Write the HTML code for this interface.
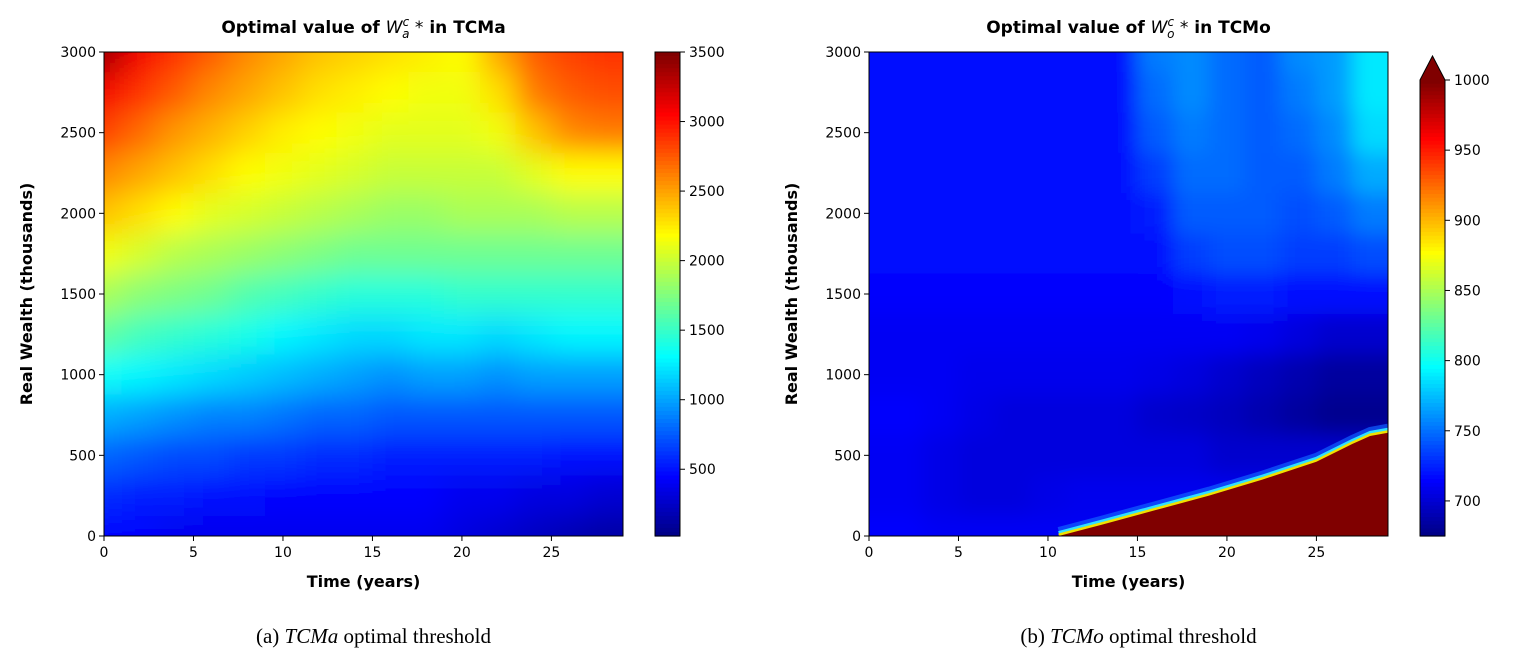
<!DOCTYPE html>
<html><head><meta charset="utf-8"><style>
body{margin:0;background:#fff;width:1518px;height:657px;overflow:hidden}
svg text{font-family:"DejaVu Sans","Liberation Sans",sans-serif}
</style></head><body>
<svg id="fig" width="1518" height="657" xmlns="http://www.w3.org/2000/svg">
<defs>
<filter id="blurA" x="-0.2" y="-0.2" width="1.4" height="1.4"><feGaussianBlur stdDeviation="14"/></filter>
<filter id="blurB" x="-0.2" y="-0.2" width="1.4" height="1.4"><feGaussianBlur stdDeviation="10"/></filter>
<clipPath id="clipA"><rect x="104" y="52" width="519" height="484"/></clipPath>
<clipPath id="clipB"><rect x="869" y="52" width="519" height="484"/></clipPath>
</defs>
</svg>
<script>
// ---- data ----
const timesA = [0,2,4,6,8,10,12,14,16,18,20,22,24,26,28];
const wealthA = [3000,2750,2500,2250,2000,1750,1500,1250,1000,750,500,250,0];
const valuesA = [
[3400,3100,2900,2750,2600,2500,2400,2350,2300,2250,2200,2500,2750,2850,2900],
[3100,2900,2750,2600,2500,2400,2300,2250,2200,2150,2150,2300,2650,2750,2800],
[2850,2700,2550,2450,2350,2250,2200,2150,2100,2100,2100,2150,2400,2600,2650],
[2600,2500,2400,2300,2200,2150,2100,2050,2000,2000,2000,2000,2100,2200,2200],
[2400,2300,2200,2100,2050,2000,1950,1900,1850,1850,1900,1900,1900,1950,1950],
[2150,2050,1950,1900,1850,1800,1750,1700,1700,1700,1700,1700,1700,1700,1700],
[1900,1800,1750,1700,1600,1550,1500,1450,1450,1450,1500,1500,1500,1500,1500],
[1650,1550,1500,1450,1400,1300,1250,1200,1200,1250,1250,1200,1250,1300,1300],
[1350,1300,1250,1200,1150,1100,1050,1000,950,1000,1000,950,1000,1000,1000],
[1050,1000,950,900,900,850,800,800,750,750,750,750,750,750,750],
[800,750,700,700,650,650,600,600,550,550,550,550,550,500,500],
[600,550,550,500,500,450,450,450,450,450,400,400,350,350,300],
[450,450,400,400,400,400,400,400,400,400,350,300,250,200,150]];
const timesB = [0,2,4,6,8,10,12,14,16,18,20,22,24,26,28];
const wealthB = [3000,2750,2500,2250,2000,1750,1500,1250,1000,750,500,250,0];
const valuesB = [
[720,720,720,720,720,720,720,720,755,760,750,745,760,765,790],
[720,720,720,720,720,720,720,720,750,760,750,745,755,765,790],
[720,720,720,720,720,720,720,720,745,755,750,745,750,760,785],
[720,720,720,720,720,720,720,720,735,750,750,745,745,755,770],
[720,720,720,720,720,720,720,720,725,745,745,745,740,745,755],
[718,718,718,718,718,718,718,718,720,735,740,740,735,735,740],
[715,715,715,715,715,715,715,715,715,720,725,725,720,720,720],
[712,712,712,712,712,712,712,712,712,712,712,710,705,700,700],
[712,712,712,710,710,710,710,710,708,705,700,695,690,685,685],
[715,715,712,708,705,705,705,705,700,698,695,690,685,680,680],
[712,712,708,705,705,705,705,705,705,705,700,700,700,700,700],
[712,712,708,705,705,708,710,710,710,710,710,710,710,710,710],
[715,715,712,712,712,712,712,712,712,712,712,712,712,712,712]];
// region where value exceeds 1000 (lower boundary in wealth per time)
const boundaryT = [10.6,13,16,19,22,25,27,28,29];
const boundaryW = [0,70,160,250,350,460,570,620,640];
const xTicks = [0,5,10,15,20,25];
const yTicks = [0,500,1000,1500,2000,2500,3000];
const cbTicksA = [500,1000,1500,2000,2500,3000,3500];
const cbTicksB = [700,750,800,850,900,950,1000];

const NS="http://www.w3.org/2000/svg";
const svg=document.getElementById('fig');
function el(tag,attrs,parent,text){const e=document.createElementNS(NS,tag);for(const k in attrs)e.setAttribute(k,attrs[k]);if(text!==undefined)e.textContent=text;(parent||svg).appendChild(e);return e;}
function jet(x){x=Math.max(0,Math.min(1,x));const c=v=>Math.round(255*Math.max(0,Math.min(1,v)));
return `rgb(${c(1.5-Math.abs(4*x-3))},${c(1.5-Math.abs(4*x-2))},${c(1.5-Math.abs(4*x-1))})`;}

function panel(o){
 const X=t=>o.x0+(t/29)*(o.x1-o.x0);
 const Y=w=>o.y1-(w/3000)*(o.y1-o.y0);
 const outer=el('g',{'clip-path':`url(#${o.clip})`},svg);
 const g=el('g',{filter:`url(#${o.blur})`},outer);
 
 
 const E=40;
 o.vals.forEach((row,ri)=>row.forEach((v,ci)=>{
  const t=o.times[ci],w=o.wealth[ri];
  const ta=Math.max(0,t-1),tb=Math.min(29,t+1);
  const wa=Math.max(0,w-125),wb=Math.min(3000,w+125);
  let xa=X(ta),xb=X(tb),ya=Y(wb),yb=Y(wa);
  if(ta===0)xa-=E; if(tb===29)xb+=E; if(wb===3000)ya-=E; if(wa===0)yb+=E;
  const r=el('rect',{x:xa,y:ya,width:xb-xa+0.5,height:yb-ya+0.5,fill:jet((v-o.vmin)/(o.vmax-o.vmin))},g);
  
  
 }));
 if(o.bt){
  const pts=o.bt.map((t,i)=>[X(t),Y(o.bw[i])]);
  const line=pts.map(p=>p.join(',')).join(' ');
  el('polyline',{points:pts.map(p=>p[0]+','+(p[1]-5)).join(' '),fill:'none',stroke:'#1060ff','stroke-width':8,opacity:0.7},outer);
  el('polyline',{points:pts.map(p=>p[0]+','+(p[1]-3)).join(' '),fill:'none',stroke:'#30e0ff','stroke-width':4},outer);
  el('polyline',{points:pts.map(p=>p[0]+','+(p[1]-1)).join(' '),fill:'none',stroke:'#f0e000','stroke-width':3},outer);
  const poly=el('polygon',{points:line+` ${X(29)+5},${Y(o.bw[o.bw.length-1])} ${X(29)+5},${o.y1+5} ${X(o.bt[0])},${o.y1+5}`,fill:jet(1)},outer);
  
  
 }
 el('rect',{x:o.x0,y:o.y0,width:o.x1-o.x0,height:o.y1-o.y0,fill:'none',stroke:'#000','stroke-width':1});
 xTicks.forEach(t=>{el('line',{x1:X(t),x2:X(t),y1:o.y1,y2:o.y1+5,stroke:'#000'});
  const tx=el('text',{x:X(t),y:o.y1+21,'font-size':14,'text-anchor':'middle'},svg,t);
  });
 yTicks.forEach(w=>{el('line',{x1:o.x0-5,x2:o.x0,y1:Y(w),y2:Y(w),stroke:'#000'});
  const tx=el('text',{x:o.x0-8,y:Y(w)+5,'font-size':14,'text-anchor':'end'},svg,w);
  });
 const xl=el('text',{x:(o.x0+o.x1)/2,y:587,'font-size':16,'font-weight':'bold','text-anchor':'middle'},svg,'Time (years)');
 
 const yl=el('text',{x:0,y:0,'font-size':16,'font-weight':'bold','text-anchor':'middle',transform:`translate(${o.x0-72},${(o.y0+o.y1)/2}) rotate(-90)`},svg,'Real Wealth (thousands)');
 
 const ti=el('text',{x:(o.x0+o.x1)/2,y:33,'font-size':17,'font-weight':'bold','text-anchor':'middle'},svg);
 
 el('tspan',{},ti,'Optimal value of ');
 el('tspan',{'font-style':'italic','font-weight':'normal'},ti,'W');
 el('tspan',{'font-style':'italic','font-weight':'normal','font-size':12,dy:-7},ti,'c');
 el('tspan',{'font-style':'italic','font-weight':'normal','font-size':12,dx:-7,dy:12},ti,o.sub);
 el('tspan',{'font-weight':'normal',dy:-5},ti,' *');
 el('tspan',{},ti,'  in '+o.label);
 const cb=el('g',{},svg);
 const cy0=o.cbTop,cy1=536,cx=o.cbx,cw=25;
 const CY=v=>cy1-(v-o.vmin)/(o.vmax-o.vmin)*(cy1-cy0);
 for(let i=0;i<120;i++){const a=cy0+(cy1-cy0)*i/120;el('rect',{x:cx,y:a,width:cw,height:(cy1-cy0)/120+0.6,fill:jet(1-i/120)},cb);}
 if(o.extend){el('polygon',{points:`${cx},${cy0} ${cx+cw/2},${cy0-24} ${cx+cw},${cy0}`,fill:jet(1)},cb);
  el('polygon',{points:`${cx},${cy1} ${cx},${cy0} ${cx+cw/2},${cy0-24} ${cx+cw},${cy0} ${cx+cw},${cy1}`,fill:'none',stroke:'#000'},cb);}
 else el('rect',{x:cx,y:cy0,width:cw,height:cy1-cy0,fill:'none',stroke:'#000'},cb);
 o.cbTicks.forEach(v=>{el('line',{x1:cx+cw,x2:cx+cw+5,y1:CY(v),y2:CY(v),stroke:'#000'},cb);
  const tx=el('text',{x:cx+cw+9,y:CY(v)+5,'font-size':14},cb,v);
  });
 const cap=el('text',{x:(o.x0+o.x1)/2+10,y:643,'font-size':21,'text-anchor':'middle','font-family':'Liberation Serif, serif'},svg);
 
 el('tspan',{'font-family':'Liberation Serif, serif'},cap,o.cap1+' ');
 el('tspan',{'font-style':'italic','font-family':'Liberation Serif, serif'},cap,o.label);
 el('tspan',{'font-family':'Liberation Serif, serif'},cap,' optimal threshold');
}
panel({name:'tcma',x0:104,x1:623,y0:52,y1:536,times:timesA,wealth:wealthA,vals:valuesA,vmin:20,vmax:3500,sub:'a',label:'TCMa',cbx:655,cbTop:52,cbTicks:cbTicksA,extend:false,cap1:'(a)',blur:'blurA',clip:'clipA'});
panel({name:'tcmo',x0:869,x1:1388,y0:52,y1:536,times:timesB,wealth:wealthB,vals:valuesB,vmin:675,vmax:1000,sub:'o',label:'TCMo',cbx:1420,cbTop:80,cbTicks:cbTicksB,extend:true,cap1:'(b)',blur:'blurB',clip:'clipB',bt:boundaryT,bw:boundaryW});
</script>
</body></html>
